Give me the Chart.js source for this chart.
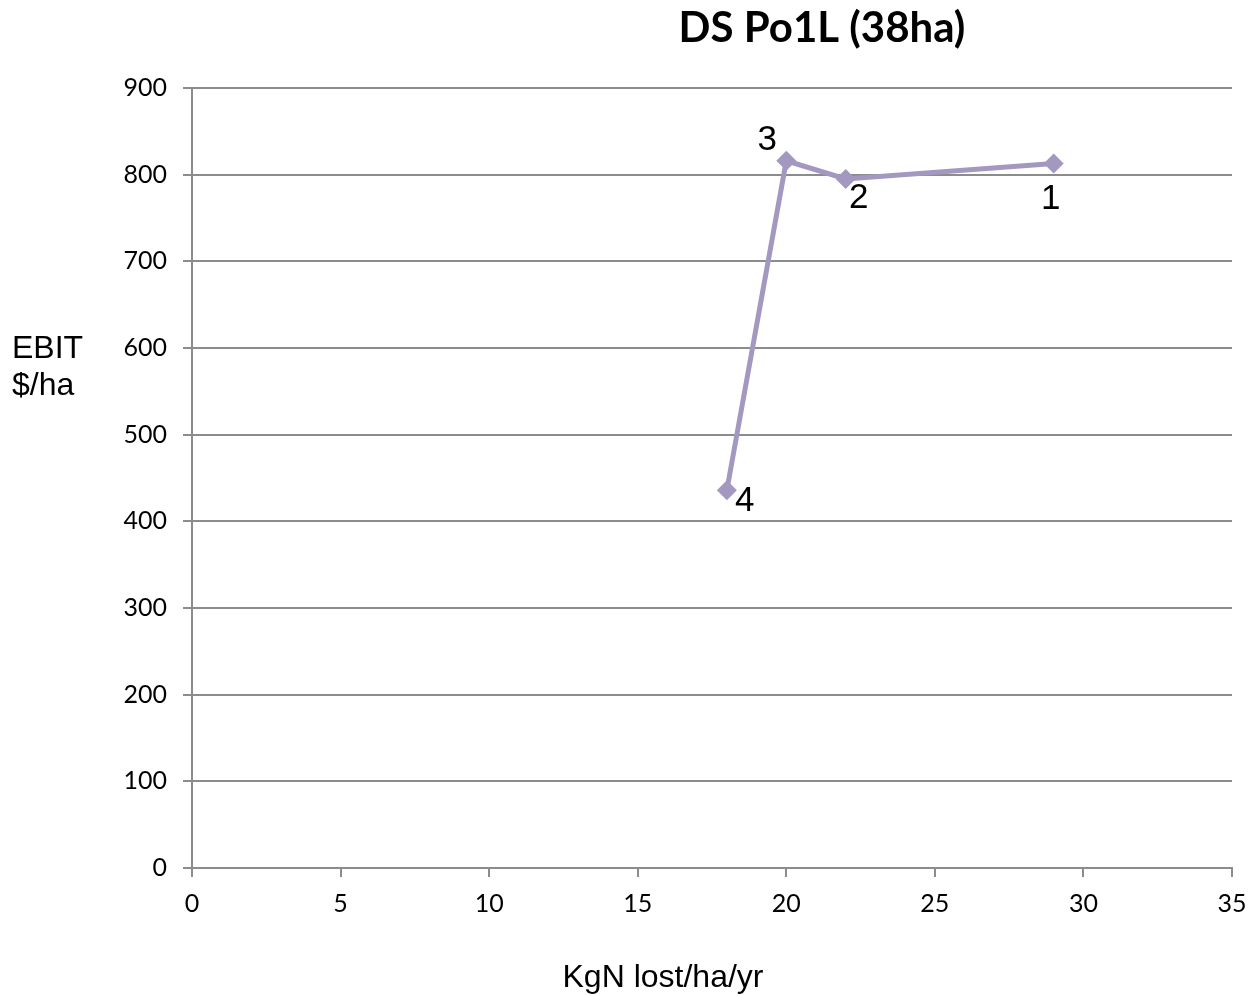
<!DOCTYPE html>
<html>
<head>
<meta charset="utf-8">
<script src="https://cdn.jsdelivr.net/npm/chart.js@4.4.1/dist/chart.umd.min.js"></script>
<style>
  html, body { margin: 0; padding: 0; background: #ffffff; }
  #wrap { width: 1248px; height: 996px; position: relative; }
</style>
</head>
<body>
<div id="wrap"><canvas id="chart"></canvas></div>
<script>
// Nitrogen loss vs EBIT for the four DS Po1L scenarios
const nLost = [18, 20, 22, 29];          // KgN lost/ha/yr
const ebit = [436, 816, 795, 813];       // EBIT $/ha
const pointNames = ['4', '3', '2', '1'];
const chartTitle = 'DS Po1L (38ha)';
const yTitleLines = ['EBIT', '$/ha'];
const xTitle = 'KgN lost/ha/yr';

const lineColor = '#A398C0';
const gridColor = '#8C8C8C';
const tickFont = { family: 'Lato', size: 25 };

// label placement per point: [dx, dy] from the marker centre
const labelOffsets = [[18, 11], [-19, -20], [13, 19], [-3, 36]];

const textPlugin = {
  id: 'textPlugin',
  afterDraw(chart) {
    const ctx = chart.ctx;
    const xs = chart.scales.x, ys = chart.scales.y;
    ctx.save();
    ctx.fillStyle = '#000000';
    ctx.textAlign = 'center';
    ctx.textBaseline = 'middle';
    // title
    ctx.font = 'bold 42px "Lato"';
    ctx.fillText(chartTitle, 822, 28);
    // axis titles
    ctx.font = '32px "Liberation Sans"';
    ctx.textAlign = 'left';
    ctx.fillText(yTitleLines[0], 12, 349);
    ctx.fillText(yTitleLines[1], 12, 386);
    ctx.textAlign = 'center';
    ctx.fillText(xTitle, 663, 978);
    // point labels
    ctx.font = '35px "Liberation Sans"';
    nLost.forEach((v, i) => {
      const px = xs.getPixelForValue(v);
      const py = ys.getPixelForValue(ebit[i]);
      ctx.fillText(pointNames[i], px + labelOffsets[i][0], py + labelOffsets[i][1]);
    });
    ctx.restore();
  }
};

new Chart(document.getElementById('chart'), {
  type: 'scatter',
  data: {
    datasets: [{
      data: nLost.map((x, i) => ({ x: x, y: ebit[i] })),
      showLine: true,
      borderColor: lineColor,
      backgroundColor: lineColor,
      borderWidth: 5,
      pointStyle: 'rectRot',
      pointRadius: 10,
      pointHoverRadius: 10,
      pointBorderWidth: 0,
      tension: 0
    }]
  },
  options: {
    responsive: true,
    maintainAspectRatio: false,
    animation: false,
    layout: { padding: { top: 88, right: 16, left: 0, bottom: 0 } },
    plugins: {
      legend: { display: false },
      title: { display: false },
      tooltip: { enabled: false }
    },
    scales: {
      x: {
        type: 'linear',
        min: 0, max: 35,
        ticks: { stepSize: 5, color: '#000', font: tickFont, padding: 12 },
        grid: { drawOnChartArea: false, drawTicks: true, tickLength: 9, color: gridColor, lineWidth: 2 },
        border: { display: true, color: gridColor, width: 2 },
        afterFit(s) { s.height = 128; s.paddingLeft = 0; s.paddingRight = 0; }
      },
      y: {
        min: 0, max: 900,
        ticks: { stepSize: 100, color: '#000', font: tickFont, padding: 16 },
        grid: { color: gridColor, lineWidth: 2, drawTicks: true, tickLength: 9 },
        border: { display: true, color: gridColor, width: 2 },
        afterFit(s) { s.width = 192; s.paddingTop = 0; s.paddingBottom = 0; }
      }
    }
  },
  plugins: [textPlugin]
});
</script>
</body>
</html>
